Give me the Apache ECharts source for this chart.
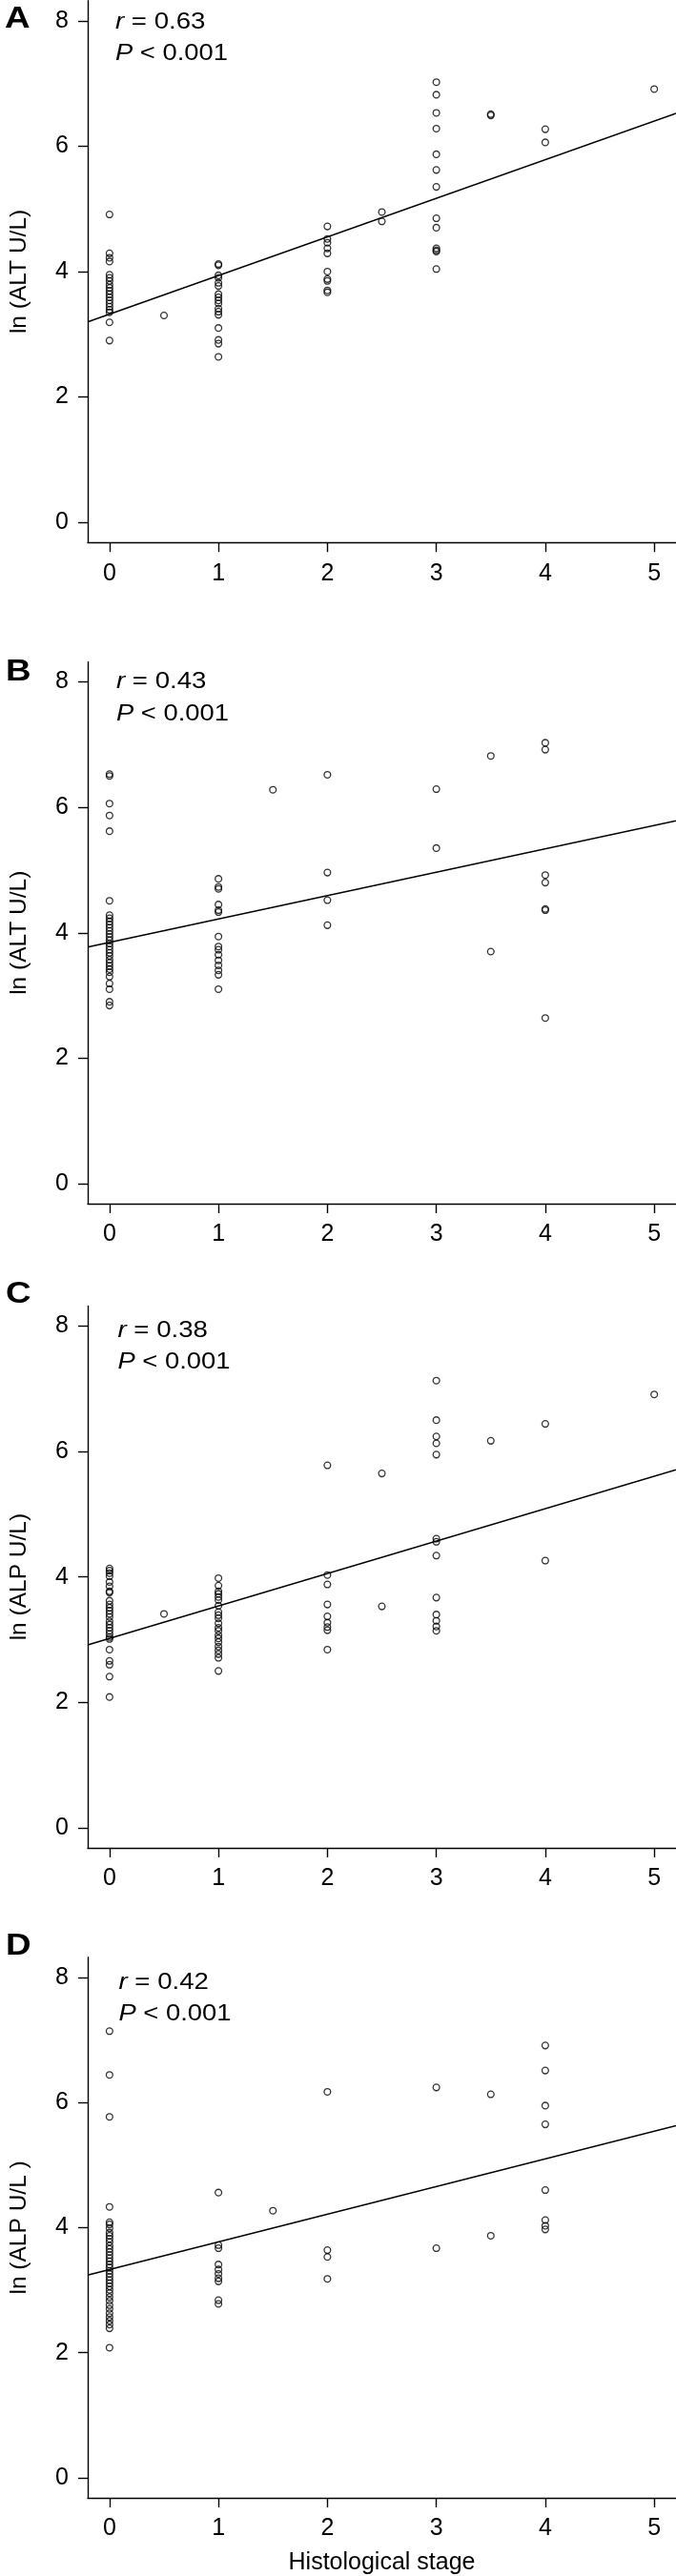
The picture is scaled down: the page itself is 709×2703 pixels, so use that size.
<!DOCTYPE html>
<html><head><meta charset="utf-8">
<script src="https://cdn.jsdelivr.net/npm/echarts@6/dist/echarts.min.js"></script>
<style>html,body{margin:0;padding:0;background:#fff}#c{width:709px;height:2703px}</style>
</head><body><div id="c"></div>
<script>
// ---- data ----
const stageTicks = [0, 1, 2, 3, 4, 5];
const yTicks = [0, 2, 4, 6, 8];
const panelLetters = ['A', 'B', 'C', 'D'];
const yNames = ['ln (ALT U/L)', 'ln (ALT U/L)', 'ln (ALP U/L)', 'ln (ALP U/L )'];
const rValues = ['0.63', '0.43', '0.38', '0.42'];
const pLabel = '< 0.001';
const xName = 'Histological stage';

const stagesA = [0, 0.5, 1, 2, 2.5, 3, 3.5, 4, 5];
const valuesA = [
  [4.91, 4.29, 4.22, 4.16, 3.95, 3.90, 3.85, 3.79, 3.74, 3.69, 3.64, 3.59, 3.54, 3.49, 3.44, 3.39, 3.35, 3.19, 2.90],
  [3.30],
  [4.12, 4.10, 3.94, 3.90, 3.82, 3.77, 3.64, 3.59, 3.54, 3.49, 3.41, 3.36, 3.31, 3.10, 2.91, 2.85, 2.64],
  [4.72, 4.52, 4.46, 4.37, 4.29, 4.00, 3.88, 3.85, 3.70, 3.67],
  [4.95, 4.80],
  [7.02, 6.82, 6.53, 6.28, 5.87, 5.62, 5.35, 4.85, 4.70, 4.37, 4.34, 4.32, 4.04],
  [6.51, 6.49],
  [6.27, 6.06],
  [6.91]
];

const stagesB = [0, 1, 1.5, 2, 3, 3.5, 4];
const valuesB = [
  [6.53, 6.50, 6.06, 5.87, 5.62, 4.51, 4.28, 4.23, 4.18, 4.13, 4.08, 4.03, 3.98, 3.93, 3.88, 3.83, 3.78, 3.73, 3.68, 3.63, 3.57, 3.52, 3.47, 3.42, 3.37, 3.30, 3.19, 3.10, 2.90, 2.84],
  [4.86, 4.73, 4.70, 4.45, 4.36, 4.33, 3.94, 3.78, 3.73, 3.65, 3.56, 3.48, 3.40, 3.33, 3.10],
  [6.28],
  [6.52, 4.96, 4.52, 4.12],
  [6.29, 5.35],
  [6.82, 3.70],
  [7.03, 6.92, 4.92, 4.80, 4.38, 4.36, 2.64]
];

const stagesC = [0, 0.5, 1, 2, 2.5, 3, 3.5, 4, 5];
const valuesC = [
  [4.135, 4.10, 4.06, 4.01, 3.92, 3.85, 3.77, 3.75, 3.62, 3.56, 3.51, 3.46, 3.41, 3.36, 3.29, 3.24, 3.19, 3.14, 3.09, 3.04, 3.01, 2.84, 2.66, 2.60, 2.41, 2.085],
  [3.41],
  [3.98, 3.86, 3.77, 3.73, 3.68, 3.63, 3.54, 3.44, 3.39, 3.34, 3.26, 3.19, 3.14, 3.07, 3.02, 2.96, 2.89, 2.83, 2.77, 2.71, 2.50],
  [5.78, 4.03, 3.88, 3.56, 3.37, 3.27, 3.20, 3.15, 2.84],
  [5.65, 3.53],
  [7.13, 6.50, 6.24, 6.13, 5.95, 4.61, 4.56, 4.34, 3.67, 3.40, 3.30, 3.21, 3.14],
  [6.17],
  [6.44, 4.26],
  [6.91]
];

const stagesD = [0, 1, 1.5, 2, 3, 3.5, 4];
const valuesD = [
  [7.14, 6.44, 5.77, 4.33, 4.085, 4.05, 3.99, 3.92, 3.87, 3.82, 3.77, 3.71, 3.66, 3.61, 3.56, 3.51, 3.46, 3.41, 3.36, 3.31, 3.26, 3.21, 3.16, 3.11, 3.06, 3.005, 2.95, 2.89, 2.83, 2.76, 2.70, 2.63, 2.57, 2.51, 2.45, 2.39, 2.08],
  [4.56, 3.72, 3.67, 3.41, 3.33, 3.26, 3.19, 3.14, 2.84, 2.78],
  [4.27],
  [6.17, 3.64, 3.53, 3.18],
  [6.24, 3.67],
  [6.13, 3.87],
  [6.91, 6.51, 5.95, 5.65, 4.60, 4.12, 4.03, 3.97]
];

const fitIntercept = [3.32, 3.845, 3.02, 3.33];
const fitSlope = [0.616, 0.373, 0.517, 0.442];

const xRange = [-0.2, 5.2];
const yRange = [-0.32, 8.32];

// ---- layout ----
const grids = [
  {left: 81.7, top: 0.7, width: 627.5, height: 568.5},
  {left: 82.6, top: 694.5, width: 627.5, height: 568.5},
  {left: 83.9, top: 1370.4, width: 627.5, height: 568.5},
  {left: 82.1, top: 2053.8, width: 627.5, height: 568.6}
];
const letterPos = [[5, 20], [6, 705], [6, 1358], [6, 2042.6]];
const rPos = [[121, 24], [122, 716], [123.5, 1397], [124.5, 2080.7]];
const pPos = [[121, 57], [122, 749.6], [123.5, 1429.5], [124.5, 2113.5]];

const FONT = '"Liberation Sans", Arial, Helvetica, sans-serif';
const INK = '#000';

const stageSets = [stagesA, stagesB, stagesC, stagesD];
const valueSets = [valuesA, valuesB, valuesC, valuesD];

function points(stages, values) {
  const out = [];
  stages.forEach((s, i) => values[i].forEach(v => out.push([s, v])));
  return out;
}

const xAxes = [], yAxes = [], series = [], graphics = [];
for (let k = 0; k < 4; k++) {
  xAxes.push({
    type: 'value', gridIndex: k, min: xRange[0], max: xRange[1],
    name: k === 3 ? xName : '', nameLocation: 'middle', nameGap: 56,
    nameTextStyle: {fontFamily: FONT, fontSize: 25, color: INK},
    axisLine: {show: true, onZero: false, lineStyle: {color: INK, width: 1.4}},
    axisTick: {show: true, inside: false, length: 10, customValues: stageTicks, lineStyle: {color: INK, width: 1.4}},
    axisLabel: {show: true, customValues: stageTicks, margin: 20, fontFamily: FONT, fontSize: 25, color: INK, showMinLabel: true, showMaxLabel: true},
    splitLine: {show: false}
  });
  yAxes.push({
    type: 'value', gridIndex: k, min: yRange[0], max: yRange[1],
    name: yNames[k], nameLocation: 'middle', nameRotate: 90, nameGap: 59,
    nameTextStyle: {fontFamily: FONT, fontSize: 24.5, color: INK},
    axisLine: {show: true, onZero: false, lineStyle: {color: INK, width: 1.4}},
    axisTick: {show: true, inside: false, length: 10, customValues: yTicks, lineStyle: {color: INK, width: 1.4}},
    axisLabel: {show: true, customValues: yTicks, margin: 20, fontFamily: FONT, fontSize: 25, color: INK},
    splitLine: {show: false}
  });
  series.push({
    type: 'scatter', xAxisIndex: k, yAxisIndex: k,
    data: points(stageSets[k], valueSets[k]),
    symbol: 'circle', symbolSize: 6.8,
    itemStyle: {color: 'rgba(255,255,255,0)', borderColor: INK, borderWidth: 1.3},
    emphasis: {disabled: true}, silent: true
  });
  series.push({
    type: 'line', xAxisIndex: k, yAxisIndex: k,
    data: xRange.map(x => [x, fitIntercept[k] + fitSlope[k] * x]),
    symbol: 'none', lineStyle: {color: INK, width: 1.5}, silent: true, clip: true
  });
  graphics.push({
    type: 'text', x: letterPos[k][0], y: letterPos[k][1], scaleX: 1.15,
    style: {text: panelLetters[k], fontFamily: FONT, fontSize: 32, fontWeight: 'bold', fill: INK, verticalAlign: 'middle', align: 'left'}
  });
  graphics.push({
    type: 'text', x: rPos[k][0], y: rPos[k][1], scaleX: 1.2,
    style: {text: '{i|r} = ' + rValues[k], fontFamily: FONT, fontSize: 23, fill: INK, verticalAlign: 'middle', align: 'left',
      rich: {i: {fontStyle: 'italic', fontFamily: FONT, fontSize: 23, fill: INK}}}
  });
  graphics.push({
    type: 'text', x: pPos[k][0], y: pPos[k][1], scaleX: 1.19,
    style: {text: '{i|P} ' + pLabel, fontFamily: FONT, fontSize: 23, fill: INK, verticalAlign: 'middle', align: 'left',
      rich: {i: {fontStyle: 'italic', fontFamily: FONT, fontSize: 23, fill: INK}}}
  });
}

const chart = echarts.init(document.getElementById('c'), null, {renderer: 'canvas'});
chart.setOption({
  animation: false,
  backgroundColor: '#fff',
  grid: grids.map(g => Object.assign({containLabel: false}, g)),
  xAxis: xAxes,
  yAxis: yAxes,
  series: series,
  graphic: graphics
});
</script></body></html>
